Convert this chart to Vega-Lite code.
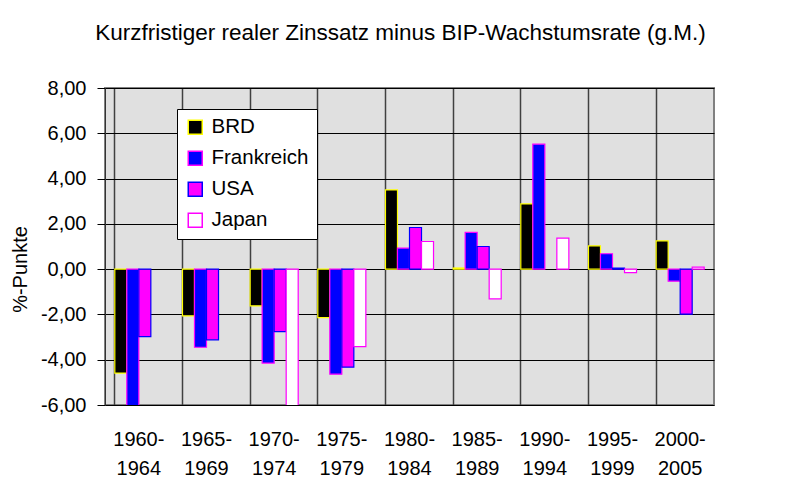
{
  "$schema": "https://vega.github.io/schema/vega-lite/v6.json",
  "autosize": {"type": "none"},
  "padding": {"left": 105, "top": 88, "right": 86, "bottom": 93},
  "width": 609,
  "height": 317,
  "background": "white",
  "title": {
    "text": "Kurzfristiger realer Zinssatz minus BIP-Wachstumsrate (g.M.)",
    "font": "Liberation Sans",
    "fontSize": 22.5,
    "fontWeight": "normal",
    "color": "black",
    "anchor": "middle",
    "dx": -9,
    "offset": 34
  },
  "config": {
    "view": {"fill": "#E0E0E0", "stroke": "#808080", "strokeWidth": 2},
    "font": "Liberation Sans"
  },
  "data": {
    "values": [
      {"period": "1960-1964", "land": "BRD", "wert": -4.59},
      {"period": "1960-1964", "land": "Frankreich", "wert": -6.3},
      {"period": "1960-1964", "land": "USA", "wert": -2.98},
      {"period": "1965-1969", "land": "BRD", "wert": -2.06},
      {"period": "1965-1969", "land": "Frankreich", "wert": -3.45},
      {"period": "1965-1969", "land": "USA", "wert": -3.12},
      {"period": "1970-1974", "land": "BRD", "wert": -1.62},
      {"period": "1970-1974", "land": "Frankreich", "wert": -4.15},
      {"period": "1970-1974", "land": "USA", "wert": -2.76},
      {"period": "1970-1974", "land": "Japan", "wert": -6.3},
      {"period": "1975-1979", "land": "BRD", "wert": -2.14},
      {"period": "1975-1979", "land": "Frankreich", "wert": -4.64},
      {"period": "1975-1979", "land": "USA", "wert": -4.33},
      {"period": "1975-1979", "land": "Japan", "wert": -3.42},
      {"period": "1980-1984", "land": "BRD", "wert": 3.5},
      {"period": "1980-1984", "land": "Frankreich", "wert": 0.93},
      {"period": "1980-1984", "land": "USA", "wert": 1.84},
      {"period": "1980-1984", "land": "Japan", "wert": 1.22},
      {"period": "1985-1989", "land": "BRD", "wert": 0.05},
      {"period": "1985-1989", "land": "Frankreich", "wert": 1.62},
      {"period": "1985-1989", "land": "USA", "wert": 1.0},
      {"period": "1985-1989", "land": "Japan", "wert": -1.31},
      {"period": "1990-1994", "land": "BRD", "wert": 2.88},
      {"period": "1990-1994", "land": "Frankreich", "wert": 5.52},
      {"period": "1990-1994", "land": "Japan", "wert": 1.37},
      {"period": "1995-1999", "land": "BRD", "wert": 1.03},
      {"period": "1995-1999", "land": "Frankreich", "wert": 0.68},
      {"period": "1995-1999", "land": "USA", "wert": 0.05},
      {"period": "1995-1999", "land": "Japan", "wert": -0.15},
      {"period": "2000-2005", "land": "BRD", "wert": 1.25},
      {"period": "2000-2005", "land": "Frankreich", "wert": -0.53},
      {"period": "2000-2005", "land": "USA", "wert": -1.99},
      {"period": "2000-2005", "land": "Japan", "wert": 0.09}
    ]
  },
  "mark": {"type": "bar", "clip": true, "strokeWidth": 1.2},
  "encoding": {
    "x": {
      "field": "period",
      "type": "nominal",
      "sort": null,
      "scale": {"paddingInner": 0.29, "paddingOuter": 0.145},
      "axis": {
        "title": null,
        "labelAngle": 0,
        "labelFontSize": 20,
        "labelColor": "black",
        "labelPadding": 24,
        "labelLineHeight": 29,
        "labelExpr": "[slice(datum.label, 0, 5), slice(datum.label, 5)]",
        "ticks": false,
        "domain": false,
        "grid": true,
        "bandPosition": 0,
        "gridColor": "#404040",
        "gridOpacity": 1,
        "gridWidth": 1.5
      }
    },
    "xOffset": {
      "field": "land",
      "type": "nominal",
      "sort": ["BRD", "Frankreich", "USA", "Japan"],
      "scale": {"domain": ["BRD", "Frankreich", "USA", "Japan"], "paddingInner": 0, "paddingOuter": 0}
    },
    "y": {
      "field": "wert",
      "type": "quantitative",
      "scale": {"domain": [-6, 8], "nice": false, "zero": false},
      "axis": {
        "title": "%-Punkte",
        "titleFontSize": 20,
        "titleFontWeight": "normal",
        "titleColor": "black",
        "titleX": -85,
        "titleY": 181,
        "titleAngle": -90,
        "titleBaseline": "middle",
        "titleAlign": "center",
        "values": [-6, -4, -2, 0, 2, 4, 6, 8],
        "labelExpr": "replace(replace(format(datum.value, '.2f'), '.', ','), '\u2212', '-')",
        "labelFontSize": 20,
        "labelColor": "black",
        "labelPadding": 11,
        "tickSize": 8,
        "tickColor": "black",
        "domainColor": "#333333",
        "grid": true,
        "gridColor": "black",
        "gridOpacity": 1,
        "gridWidth": 1
      }
    },
    "fill": {
      "field": "land",
      "type": "nominal",
      "scale": {"domain": ["BRD", "Frankreich", "USA", "Japan"], "range": ["#000000", "#0000FF", "#FF00FF", "#FFFFFF"]},
      "legend": {
        "title": null,
        "orient": "none",
        "legendX": 72,
        "legendY": 21,
        "fillColor": "white",
        "strokeColor": "black",
        "padding": 8,
        "cornerRadius": 0,
        "labelFontSize": 20.5,
        "labelColor": "black",
        "symbolType": "square",
        "symbolSize": 196,
        "symbolStrokeWidth": 1.5,
        "rowPadding": 10,
        "labelOffset": 6
      }
    },
    "stroke": {
      "field": "land",
      "type": "nominal",
      "scale": {"domain": ["BRD", "Frankreich", "USA", "Japan"], "range": ["#FFFF00", "#FF00FF", "#0000FF", "#FF00FF"]},
      "legend": {
        "title": null,
        "orient": "none",
        "legendX": 72,
        "legendY": 21,
        "fillColor": "white",
        "strokeColor": "black",
        "padding": 8,
        "cornerRadius": 0,
        "labelFontSize": 20.5,
        "labelColor": "black",
        "symbolType": "square",
        "symbolSize": 196,
        "symbolStrokeWidth": 1.5,
        "rowPadding": 10,
        "labelOffset": 6
      }
    }
  }
}
